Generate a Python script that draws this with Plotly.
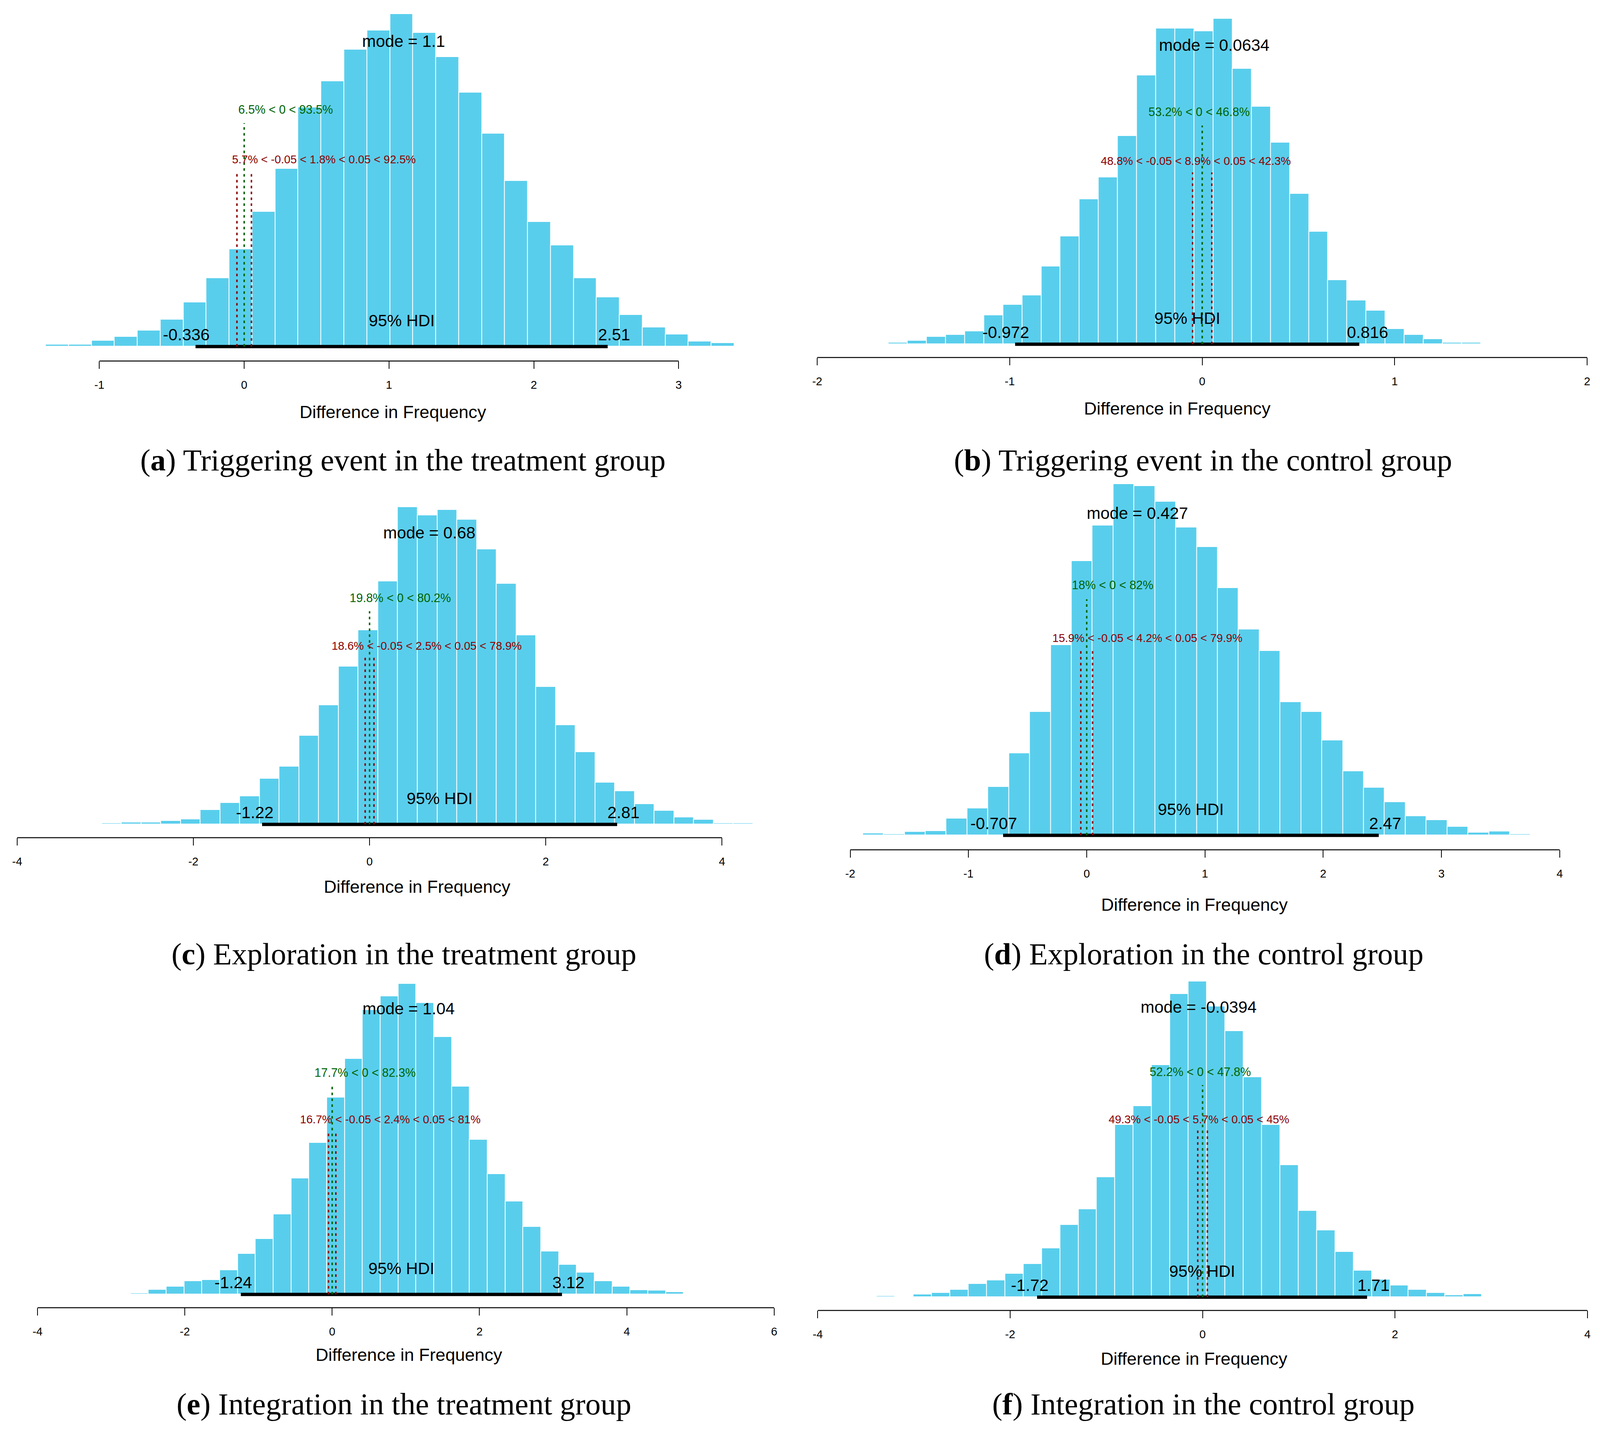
import plotly.graph_objects as go

# The page is photographed through a viewport that is 4096 CSS px wide (scaled up to
# 4364 device px) and 3683 CSS px tall, with the default 8 px body margin.
# All geometry below is given in reference pixels and mapped onto that viewport.
REF_W, REF_H = 4364, 3683
SX = 4096 / REF_W          # horizontal ref-px -> CSS-px
SY = 1.0                   # vertical ref-px -> CSS-px
M = 8
W = int(round(REF_W * SX)) - M
H = int(round(REF_H * SY)) - 2 * M
S = SX                     # font / stroke scale

# ------------------------------------------------------------------ data
panel_letters = ["a", "b", "c", "d", "e", "f"]
panel_captions = [
    "Triggering event in the treatment group",
    "Triggering event in the control group",
    "Exploration in the treatment group",
    "Exploration in the control group",
    "Integration in the treatment group",
    "Integration in the control group",
]

# histogram bins (first bin left edge, bin width) and bar heights (relative counts)
a_bin_start, a_bin_width = -1.528, 0.1585
a_heights = [1, 7, 7, 22, 36, 59, 99, 161, 250, 355, 492, 648, 872, 968, 1084, 1153, 1213,
             1145, 1056, 927, 777, 605, 455, 369, 250, 179, 115, 70, 44, 19, 13, 2, 1]
b_bin_start, b_bin_width = -1.729, 0.0993
b_heights = [3, 6, 13, 27, 34, 47, 106, 144, 178, 284, 393, 529, 609, 760, 980, 1151, 1151,
             1142, 1187, 1005, 866, 735, 548, 411, 233, 160, 122, 56, 34, 19, 5, 5, 0, 0, 0, 0, 2]
c_bin_start, c_bin_width = -3.038, 0.224
c_heights = [5, 7, 7, 13, 19, 56, 82, 107, 175, 221, 339, 455, 604, 743, 929, 1213, 1182,
             1202, 1165, 1051, 920, 723, 526, 379, 277, 160, 127, 78, 52, 27, 18, 4, 4, 0, 2]
d_bin_start, d_bin_width = -1.892, 0.1765
d_heights = [7, 4, 12, 15, 59, 94, 169, 286, 431, 664, 957, 1081, 1226, 1219, 1164, 1075,
             1006, 863, 719, 644, 465, 431, 331, 223, 166, 116, 67, 53, 30, 10, 13, 4]
e_bin_start, e_bin_width = -2.976, 0.2422
e_heights = [2, 5, 18, 31, 51, 57, 94, 158, 216, 312, 452, 591, 767, 918, 1108, 1162, 1210,
             1135, 1003, 810, 603, 469, 363, 264, 167, 116, 86, 51, 30, 17, 15, 9, 3, 0, 0, 0, 0, 2]
f_bin_start, f_bin_width = -3.386, 0.1906
f_heights = [5, 2, 11, 17, 29, 52, 66, 92, 129, 191, 282, 343, 468, 671, 745, 904, 1181, 1230,
             1133, 1036, 857, 671, 514, 337, 260, 176, 104, 68, 46, 29, 17, 8, 12, 2]

# summary statistics
modes = [1.1, 0.0634, 0.68, 0.427, 1.04, -0.0394]
hdi_low = [-0.336, -0.972, -1.22, -0.707, -1.24, -1.72]
hdi_high = [2.51, 0.816, 2.81, 2.47, 3.12, 1.71]
comp_value = 0
pct_below_comp = [6.5, 53.2, 19.8, 18, 17.7, 52.2]
pct_above_comp = [93.5, 46.8, 80.2, 82, 82.3, 47.8]
rope = [-0.05, 0.05]
pct_below_rope = [5.7, 48.8, 18.6, 15.9, 16.7, 49.3]
pct_in_rope = [1.8, 8.9, 2.5, 4.2, 2.4, 5.7]
pct_above_rope = [92.5, 42.3, 78.9, 79.9, 81, 45]

# x-axis tick labels per panel
a_ticks = [-1, 0, 1, 2, 3]
b_ticks = [-2, -1, 0, 1, 2]
c_ticks = [-4, -2, 0, 2, 4]
d_ticks = [-2, -1, 0, 1, 2, 3, 4]
e_ticks = [-4, -2, 0, 2, 4, 6]
f_ticks = [-4, -2, 0, 2, 4]

bin_starts = [a_bin_start, b_bin_start, c_bin_start, d_bin_start, e_bin_start, f_bin_start]
bin_widths = [a_bin_width, b_bin_width, c_bin_width, d_bin_width, e_bin_width, f_bin_width]
heights = [a_heights, b_heights, c_heights, d_heights, e_heights, f_heights]
ticks = [a_ticks, b_ticks, c_ticks, d_ticks, e_ticks, f_ticks]

# ------------------------------------------------------------------ layout geometry (reference px)
geom = [
    dict(zero=666, ppu=395.0, base=887, axis=924, top=36, dom=(12, 2170), xl=(1072, 1054), cap=(1099, 1177)),
    dict(zero=3279, ppu=525.0, base=881, axis=915, top=48, dom=(2190, 4352), xl=(3211, 1045), cap=(3281, 1177)),
    dict(zero=1008, ppu=240.3, base=2110, axis=2144, top=1298, dom=(12, 2170), xl=(1138, 2269), cap=(1102, 2441)),
    dict(zero=2964, ppu=322.5, base=2138, axis=2175, top=1239, dom=(2190, 4352), xl=(3258, 2315), cap=(3283, 2441)),
    dict(zero=906, ppu=200.9, base=3313, axis=3347, top=2518, dom=(12, 2170), xl=(1115, 3467), cap=(1102, 3593)),
    dict(zero=3280, ppu=262.4, base=3320, axis=3354, top=2512, dom=(2190, 4352), xl=(3257, 3477), cap=(3283, 3593)),
]


def fx(X):
    return (X * SX - M) / W


def fy(Y):
    return 1 - (Y * SY - M) / H


BAR_COLOR = "rgb(89,206,236)"
GREEN = "#006400"
RED = "#8B0000"
SANS = "Liberation Sans, Arial, sans-serif"
SERIF = "Liberation Serif, Times New Roman, serif"
FS_BIG = 45 * S
FS_GREEN = 32.5 * S
FS_RED = 31 * S
FS_TICK = 31 * S
FS_XLAB = 48 * S
FS_CAP = 83.5 * S

ARIAL_W = {str(d): 556 for d in range(10)}
ARIAL_W.update({'.': 278, '%': 889, ' ': 278, '<': 584, '-': 333, '=': 584,
                'm': 833, 'o': 556, 'd': 556, 'e': 556, 'H': 722, 'D': 722, 'I': 278})


def text_w(s, fs):
    return sum(ARIAL_W.get(ch, 556) for ch in s) / 1000.0 * fs


def fmt(v):
    return "%g" % v


fig = go.Figure()
annotations = []
shapes = []
layout_axes = {}
DESC = 0.212
CAP = 0.716

for k in range(6):
    g = geom[k]
    xn = "x" if k == 0 else f"x{k+1}"
    yn = "y" if k == 0 else f"y{k+1}"
    xan = "xaxis" if k == 0 else f"xaxis{k+1}"
    yan = "yaxis" if k == 0 else f"yaxis{k+1}"
    hts = heights[k]
    maxh = max(hts)

    # histogram bars
    fig.add_trace(go.Bar(
        x0=bin_starts[k] + bin_widths[k] / 2, dx=bin_widths[k], y=hts, width=bin_widths[k],
        marker=dict(color=BAR_COLOR, line=dict(color="white", width=2 * S)),
        xaxis=xn, yaxis=yn, hoverinfo="skip", showlegend=False))

    # HDI line
    fig.add_trace(go.Scatter(x=[hdi_low[k], hdi_high[k]], y=[0, 0], mode="lines",
                             line=dict(color="black", width=9 * S), xaxis=xn, yaxis=yn,
                             showlegend=False, hoverinfo="skip"))
    # comparison value line
    cv_ht = 0.7 * maxh
    dash = f"{7 * S:.1f}px,{9 * S:.1f}px"
    fig.add_trace(go.Scatter(x=[comp_value, comp_value], y=[0, 0.96 * cv_ht], mode="lines",
                             line=dict(color=GREEN, width=4 * S, dash=dash), xaxis=xn, yaxis=yn,
                             showlegend=False, hoverinfo="skip"))
    # ROPE lines
    rope_ht = 0.55 * maxh
    for rv in rope:
        fig.add_trace(go.Scatter(x=[rv, rv], y=[0, 0.96 * rope_ht], mode="lines",
                                 line=dict(color=RED, width=4 * S, dash=dash), xaxis=xn, yaxis=yn,
                                 showlegend=False, hoverinfo="skip"))

    # axes
    left_px, right_px = g["dom"]
    xr = [(left_px - g["zero"]) / g["ppu"], (right_px - g["zero"]) / g["ppu"]]
    ybot = -(g["axis"] - g["base"]) * maxh / (g["base"] - g["top"])
    layout_axes[xan] = dict(
        domain=[fx(left_px), fx(right_px)], range=xr, anchor=yn,
        showgrid=False, zeroline=False, showline=False,
        tickvals=ticks[k], ticktext=[fmt(t) for t in ticks[k]],
        ticks="outside", ticklen=19 * SY, tickwidth=2.5 * S, tickcolor="black",
        tickfont=dict(family=SANS, size=FS_TICK, color="black"),
        ticklabelstandoff=int(round(16 * SY)), fixedrange=True)
    layout_axes[yan] = dict(
        domain=[fy(g["axis"]), fy(g["top"])], range=[ybot, maxh], anchor=xn,
        visible=False, fixedrange=True)

    # axis line between first and last tick
    shapes.append(dict(type="line", xref=xn, yref=f"{yn} domain",
                       x0=ticks[k][0], x1=ticks[k][-1], y0=0, y1=0,
                       line=dict(color="black", width=2.5 * S)))

    # mode text
    mtxt = f"mode = {fmt(modes[k])}"
    annotations.append(dict(x=modes[k], y=0.9 * maxh, xref=xn, yref=yn, text=mtxt,
                            showarrow=False, xanchor="center", yanchor="bottom",
                            yshift=-DESC * FS_BIG, borderpad=0,
                            font=dict(family=SANS, size=FS_BIG, color="black")))
    # HDI texts
    annotations.append(dict(x=(hdi_low[k] + hdi_high[k]) / 2, y=0, xref=xn, yref=yn,
                            text="95% HDI", showarrow=False, xanchor="center", yanchor="bottom",
                            yshift=1.7 * CAP * FS_BIG - DESC * FS_BIG, borderpad=0,
                            font=dict(family=SANS, size=FS_BIG, color="black")))
    for val, adj in ((hdi_low[k], 0.7), (hdi_high[k], 0.3)):
        s = fmt(val)
        annotations.append(dict(x=val, y=0, xref=xn, yref=yn, text=s, showarrow=False,
                                xanchor="center", yanchor="bottom",
                                xshift=(0.5 - adj) * text_w(s, FS_BIG),
                                yshift=0.5 * CAP * FS_BIG - DESC * FS_BIG, borderpad=0,
                                font=dict(family=SANS, size=FS_BIG, color="black")))
    # comparison value text
    gtxt = f"{fmt(pct_below_comp[k])}% < {fmt(comp_value)} < {fmt(pct_above_comp[k])}%"
    adj = pct_below_comp[k] / 100
    annotations.append(dict(x=comp_value, y=cv_ht, xref=xn, yref=yn, text=gtxt, showarrow=False,
                            xanchor="center", yanchor="bottom",
                            xshift=(0.5 - adj) * text_w(gtxt, FS_GREEN),
                            yshift=-DESC * FS_GREEN, borderpad=0,
                            font=dict(family=SANS, size=FS_GREEN, color=GREEN)))
    # ROPE text
    rtxt = (f"{fmt(pct_below_rope[k])}% < {fmt(rope[0])} < {fmt(pct_in_rope[k])}% < "
            f"{fmt(rope[1])} < {fmt(pct_above_rope[k])}%")
    adj = (pct_below_rope[k] + 0.5 * pct_in_rope[k]) / 100
    annotations.append(dict(x=(rope[0] + rope[1]) / 2, y=rope_ht, xref=xn, yref=yn, text=rtxt,
                            showarrow=False, xanchor="center", yanchor="bottom",
                            xshift=(0.5 - adj) * text_w(rtxt, FS_RED),
                            yshift=-DESC * FS_RED, borderpad=0,
                            font=dict(family=SANS, size=FS_RED, color=RED)))
    # x-axis title
    annotations.append(dict(x=fx(g["xl"][0]), y=fy(g["xl"][1]), xref="paper", yref="paper",
                            text="Difference in Frequency", showarrow=False,
                            xanchor="center", yanchor="middle",
                            font=dict(family=SANS, size=FS_XLAB, color="black")))
    # caption
    annotations.append(dict(x=fx(g["cap"][0]), y=fy(g["cap"][1]), xref="paper", yref="paper",
                            text=f"(<b>{panel_letters[k]}</b>) {panel_captions[k]}",
                            showarrow=False, xanchor="center", yanchor="middle",
                            font=dict(family=SERIF, size=FS_CAP, color="black")))

fig.update_layout(
    width=W, height=H, margin=dict(l=0, r=0, t=0, b=0),
    paper_bgcolor="white", plot_bgcolor="white",
    bargap=0, showlegend=False,
    annotations=annotations, shapes=shapes,
    **layout_axes)

fig.write_html("out.html")
